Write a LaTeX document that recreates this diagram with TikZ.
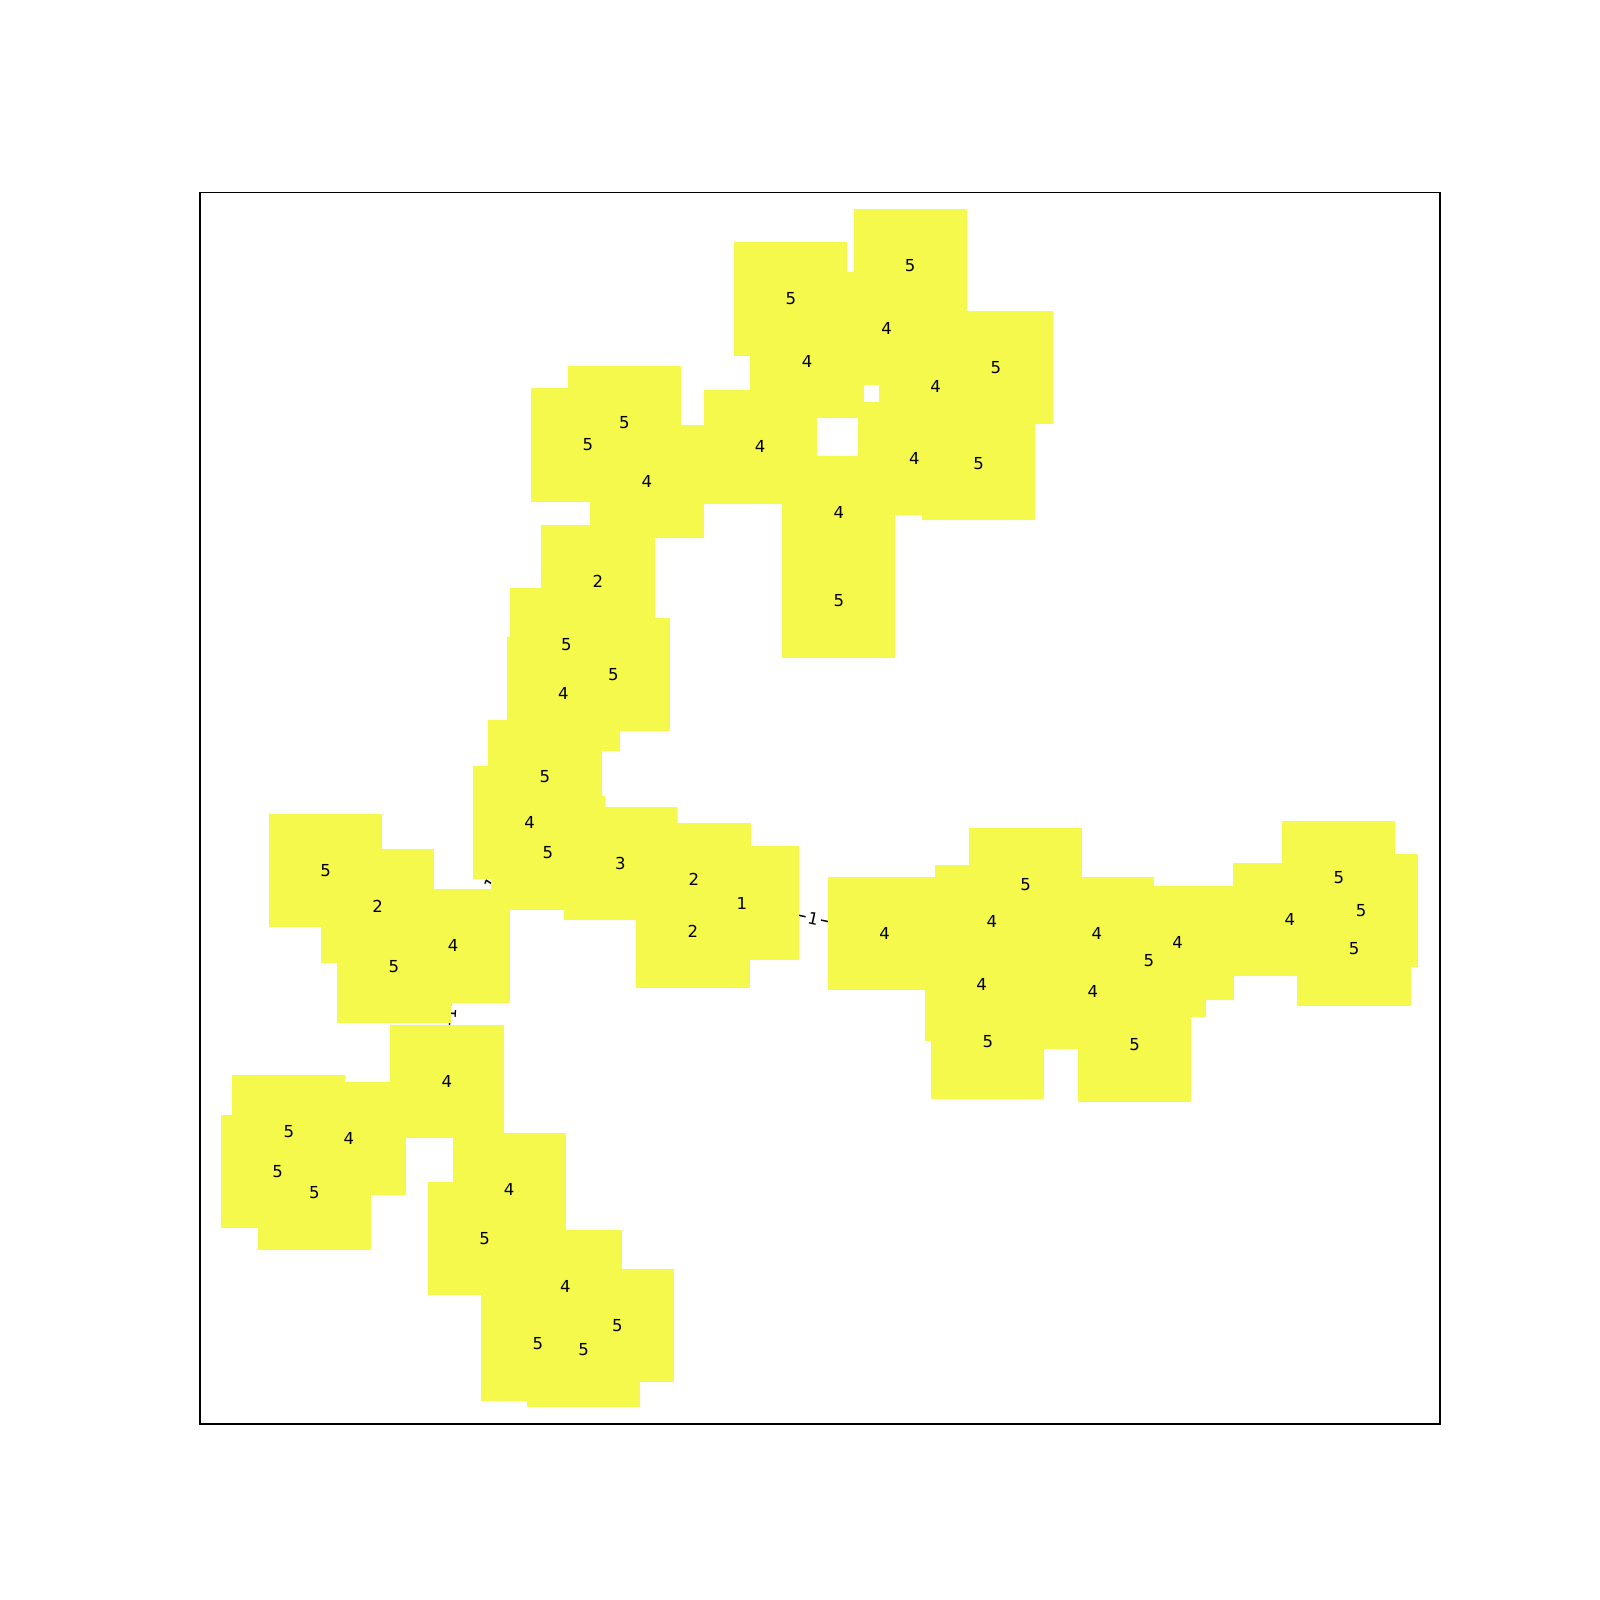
\documentclass[tikz,border=0pt]{standalone}
\usepackage{fontspec}
\setmainfont{DejaVu Sans}
\definecolor{nodeyellow}{RGB}{244,249,76}
\pgfdeclarelayer{edgelayer}
\pgfsetlayers{edgelayer,main}
\tikzset{sq/.style={rectangle,fill=nodeyellow,minimum size=1.11cm,inner sep=0pt},lbl/.style={font=\fontsize{4.6}{5}\selectfont},line/.style={draw=black,line width=0.4pt},wt/.style={midway,sloped,fill=white,inner sep=0.7pt,font=\fontsize{4.6}{5}\selectfont}}

\begin{document}
\begin{tikzpicture}[x=0.01cm,y=-0.01cm]
\useasboundingbox (0,0) rectangle (1568,1568);
\draw[line width=0.3pt] (196,188.2) rectangle (1411.2,1395.5);
% top group
\node[sq] (a) at (892,260) {};
\node[sq] (b) at (775,293) {};
\node[sq] (c) at (869,322) {};
\node[sq] (d) at (791,354) {};
\node[sq] (e) at (976,360) {};
\node[sq] (f) at (917,379) {};
\node[sq] (g) at (745,438) {};
\node[sq] (h) at (896,449) {};
\node[sq] (i) at (959,454) {};
\node[sq] (j) at (822,502) {};
\node[sq] (k) at (822,589) {};
\node[sq] (l) at (612,414) {};
\node[sq] (m) at (576,436) {};
\node[sq] (n) at (634,472) {};
\node[sq] (o) at (586,570) {};
\node[sq] (p) at (555,632) {};
\node[sq] (q) at (601,661) {};
\node[sq] (r) at (552,680) {};
\node[sq] (s) at (534,761) {};
\node[sq] (t) at (519,806) {};
\node[sq] (u) at (537,836) {};
\node[sq] (v) at (608,846) {};
\node[sq] (w) at (680,862) {};
\node[sq] (x) at (727,885) {};
\node[sq] (y) at (679,913) {};
% left group
\node[sq] (z) at (319,853) {};
\node[sq] (aa) at (370,888) {};
\node[sq] (ab) at (444,927) {};
\node[sq] (ac) at (386,947) {};
\node[sq] (ad) at (438,1060) {};
\node[sq] (ae) at (283,1109) {};
\node[sq] (af) at (342,1116) {};
\node[sq] (ag) at (272,1148) {};
\node[sq] (ah) at (308,1169) {};
\node[sq] (ai) at (499,1166) {};
\node[sq] (aj) at (475,1214) {};
\node[sq] (ak) at (554,1261) {};
\node[sq] (al) at (605,1299) {};
\node[sq] (am) at (527,1317) {};
\node[sq] (an) at (572,1323) {};
% right group
\node[sq] (ba) at (867,915) {};
\node[sq] (bb) at (1005,867) {};
\node[sq] (bc) at (972,903) {};
\node[sq] (bd) at (1075,915) {};
\node[sq] (be) at (962,965) {};
\node[sq] (bf) at (968,1021) {};
\node[sq] (bg) at (1071,972) {};
\node[sq] (bh) at (1126,941) {};
\node[sq] (bi) at (1154,924) {};
\node[sq] (bj) at (1112,1024) {};
\node[sq] (bk) at (1264,901) {};
\node[sq] (bl) at (1312,860) {};
\node[sq] (bm) at (1334,892) {};
\node[sq] (bn) at (1327,930) {};
% labels on top
\node[lbl] at (a) {5};
\node[lbl] at (b) {5};
\node[lbl] at (c) {4};
\node[lbl] at (d) {4};
\node[lbl] at (e) {5};
\node[lbl] at (f) {4};
\node[lbl] at (g) {4};
\node[lbl] at (h) {4};
\node[lbl] at (i) {5};
\node[lbl] at (j) {4};
\node[lbl] at (k) {5};
\node[lbl] at (l) {5};
\node[lbl] at (m) {5};
\node[lbl] at (n) {4};
\node[lbl] at (o) {2};
\node[lbl] at (p) {5};
\node[lbl] at (q) {5};
\node[lbl] at (r) {4};
\node[lbl] at (s) {5};
\node[lbl] at (t) {4};
\node[lbl] at (u) {5};
\node[lbl] at (v) {3};
\node[lbl] at (w) {2};
\node[lbl] at (x) {1};
\node[lbl] at (y) {2};
\node[lbl] at (z) {5};
\node[lbl] at (aa) {2};
\node[lbl] at (ab) {4};
\node[lbl] at (ac) {5};
\node[lbl] at (ad) {4};
\node[lbl] at (ae) {5};
\node[lbl] at (af) {4};
\node[lbl] at (ag) {5};
\node[lbl] at (ah) {5};
\node[lbl] at (ai) {4};
\node[lbl] at (aj) {5};
\node[lbl] at (ak) {4};
\node[lbl] at (al) {5};
\node[lbl] at (am) {5};
\node[lbl] at (an) {5};
\node[lbl] at (ba) {4};
\node[lbl] at (bb) {5};
\node[lbl] at (bc) {4};
\node[lbl] at (bd) {4};
\node[lbl] at (be) {4};
\node[lbl] at (bf) {5};
\node[lbl] at (bg) {4};
\node[lbl] at (bh) {5};
\node[lbl] at (bi) {4};
\node[lbl] at (bj) {5};
\node[lbl] at (bk) {4};
\node[lbl] at (bl) {5};
\node[lbl] at (bm) {5};
\node[lbl] at (bn) {5};
% connectors, centre to centre, behind the squares
\begin{pgfonlayer}{edgelayer}
\draw[line] (a.center) -- (c.center) (b.center) -- (d.center) (c.center) -- (d.center) (c.center) -- (f.center);
\draw[line] (e.center) -- (f.center) (f.center) -- (h.center) (h.center) -- (i.center) (h.center) -- (j.center);
\draw[line] (j.center) -- (k.center) (d.center) -- (g.center) (g.center) -- (n.center) (n.center) -- (l.center);
\draw[line] (l.center) -- (m.center) (n.center) -- (o.center) (o.center) -- (p.center) (p.center) -- (q.center);
\draw[line] (p.center) -- (r.center) (r.center) -- (s.center) (s.center) -- (t.center) (t.center) -- (u.center);
\draw[line] (u.center) -- (v.center) (v.center) -- (w.center) (w.center) -- (x.center) (x.center) -- (y.center);
\draw[line] (z.center) -- (aa.center) (aa.center) -- (ac.center) (ac.center) -- (ab.center) (ad.center) -- (af.center);
\draw[line] (af.center) -- (ae.center) (ae.center) -- (ag.center) (ag.center) -- (ah.center) (ad.center) -- (ai.center);
\draw[line] (ai.center) -- (aj.center) (ai.center) -- (ak.center) (ak.center) -- (al.center) (ak.center) -- (am.center);
\draw[line] (am.center) -- (an.center) (ba.center) -- (bc.center) (bc.center) -- (bb.center) (bc.center) -- (be.center);
\draw[line] (be.center) -- (bf.center) (bc.center) -- (bd.center) (bd.center) -- (bg.center) (bg.center) -- (bj.center);
\draw[line] (bd.center) -- (bh.center) (bh.center) -- (bi.center) (bi.center) -- (bk.center) (bk.center) -- (bl.center);
\draw[line] (bl.center) -- (bm.center) (bm.center) -- (bn.center);
\draw[line] (x.center) -- node[wt] {1} (ba.center);
\draw[line] (t.center) -- node[wt] {1} (ab.center);
\draw[line] (ab.center) -- node[wt] {1} (ad.center);
\end{pgfonlayer}
\end{tikzpicture}
\end{document}
